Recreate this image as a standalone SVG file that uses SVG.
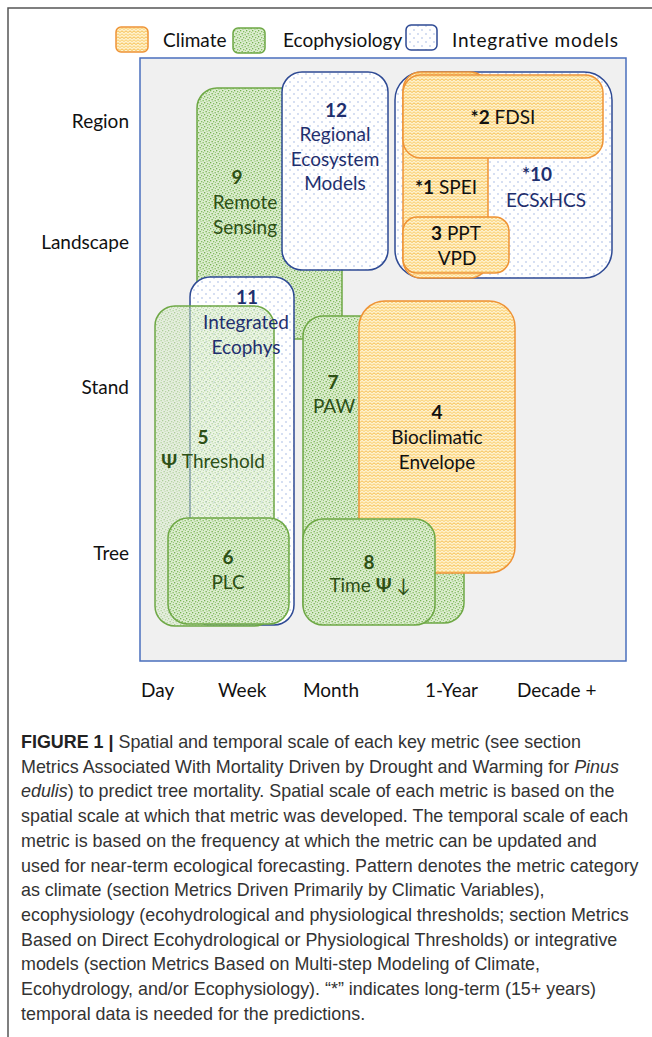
<svg xmlns="http://www.w3.org/2000/svg" width="652" height="1037" viewBox="0 0 652 1037">
<style>
  .lbl{font-family:Lato,"DejaVu Sans",sans-serif;font-size:19px;text-anchor:middle}
  .num{font-weight:bold}
  .cl{fill:#111111}
  .ec{fill:#2d5016}
  .in{fill:#1f2f6e}
  .ax{font-family:Lato,"DejaVu Sans",sans-serif;font-size:19px;fill:#111111}
  .cap{font-family:"Liberation Sans",Arial,sans-serif;font-size:17.9px;fill:#333333}
  .bClim{fill:url(#pClim);stroke:#ee9336;stroke-width:1.5}
  .bEco{fill:url(#pEco);stroke:#6ea845;stroke-width:1.5}
  .bInt{fill:url(#pInt);stroke:#2e4a94;stroke-width:1.5}
</style>
<defs>
  <pattern id="pClim" width="8" height="6" patternUnits="userSpaceOnUse">
    <rect width="8" height="6" fill="#fef1cc"/>
    <path d="M0 2.5 L2 0.8 L4 2.5 L6 0.8 L8 2.5" fill="none" stroke="#f7bd4a" stroke-width="1"/>
    <path d="M0 5.5 L2 3.8 L4 5.5 L6 3.8 L8 5.5" fill="none" stroke="#f9c85e" stroke-width="0.9"/>
  </pattern>
  <pattern id="pEco" width="6" height="6" patternUnits="userSpaceOnUse">
    <rect width="6" height="6" fill="#dcedcf"/>
    <rect x="0" y="0" width="1.3" height="1.3" fill="#74b050"/>
    <rect x="3" y="1" width="1.3" height="1.3" fill="#86bd62"/>
    <rect x="1.5" y="3" width="1.3" height="1.3" fill="#74b050"/>
    <rect x="4.5" y="4" width="1.3" height="1.3" fill="#86bd62"/>
    <rect x="5" y="2" width="1" height="1" fill="#9cca7e"/>
    <rect x="2.5" y="5" width="1" height="1" fill="#9cca7e"/>
  </pattern>
  <pattern id="pInt" width="8" height="8" patternUnits="userSpaceOnUse">
    <rect width="8" height="8" fill="#ffffff"/>
    <circle cx="2" cy="2" r="0.7" fill="#8ea8dc"/>
    <circle cx="6" cy="6" r="0.7" fill="#8ea8dc"/>
  </pattern>
</defs>

<rect width="652" height="1037" fill="#ffffff"/>
<path d="M8 1037 V8 H652" fill="none" stroke="#555555" stroke-width="1.5"/>

<g id="legend">
  <rect x="116" y="27" width="32" height="25" rx="5" class="bClim"/>
  <text x="163" y="47" class="ax">Climate</text>
  <rect x="233" y="28" width="32" height="25" rx="5" class="bEco"/>
  <text x="283" y="47" class="ax ec">Ecophysiology</text>
  <rect x="406" y="25" width="31" height="25" rx="5" class="bInt"/>
  <text x="452" y="47" class="ax in" textLength="166" lengthAdjust="spacing">Integrative models</text>
</g>

<g id="plot-area">
  <rect x="140" y="58" width="486" height="603" fill="#f0f0f0" stroke="#4a6fbd" stroke-width="1.5"/>
</g>

<g id="axis-labels">
  <text x="129" y="128" class="ax" text-anchor="end">Region</text>
  <text x="129" y="249" class="ax" text-anchor="end">Landscape</text>
  <text x="129" y="394" class="ax" text-anchor="end">Stand</text>
  <text x="129" y="560" class="ax" text-anchor="end">Tree</text>
  <text x="141" y="697" class="ax">Day</text>
  <text x="218" y="697" class="ax">Week</text>
  <text x="303" y="697" class="ax">Month</text>
  <text x="425" y="697" class="ax">1-Year</text>
  <text x="517" y="697" class="ax">Decade +</text>
</g>

<g id="connectors"></g>

<g id="node-9">
  <path d="M197 339 V108 A20 20 0 0 1 217 88 H342 V339 Z" class="bEco"/>
  <text x="237" y="184" class="lbl ec num">9</text>
  <text x="245" y="209" class="lbl ec">Remote</text>
  <text x="245" y="234" class="lbl ec">Sensing</text>
</g>

<g id="node-12">
  <rect x="282" y="72" width="106" height="198" rx="20" class="bInt"/>
  <text x="336" y="117" class="lbl in num">12</text>
  <text x="335" y="141" class="lbl in">Regional</text>
  <text x="335" y="166" class="lbl in">Ecosystem</text>
  <text x="335" y="190" class="lbl in">Models</text>
</g>

<g id="node-10">
  <rect x="395" y="72" width="217" height="206" rx="28" class="bInt"/>
  <text x="537" y="181" class="lbl in num">*10</text>
  <text x="546" y="207" class="lbl in">ECSxHCS</text>
</g>

<g id="node-1">
  <rect x="403" y="72" width="85" height="206" rx="18" class="bClim"/>
  <text x="446" y="194" class="lbl cl"><tspan class="num">*1</tspan> SPEI</text>
</g>

<g id="node-2">
  <rect x="403" y="75" width="200" height="83" rx="18" class="bClim"/>
  <text x="503" y="124" class="lbl cl"><tspan class="num">*2</tspan> FDSI</text>
</g>

<g id="node-3">
  <rect x="403" y="217" width="106" height="56" rx="14" class="bClim"/>
  <text x="456" y="240" class="lbl cl"><tspan class="num">3</tspan> PPT</text>
  <text x="457" y="265" class="lbl cl">VPD</text>
</g>

<g id="node-11">
  <rect x="190" y="277" width="104" height="348" rx="20" class="bInt"/>
</g>

<g id="node-5">
  <rect x="155" y="306" width="119" height="320" rx="20" fill="url(#pEco)" fill-opacity="0.55" stroke="#6ea845" stroke-width="1.5"/>
  <text x="203" y="444" class="lbl ec num">5</text>
  <text x="213" y="468" class="lbl ec"><tspan class="num">Ψ</tspan> Threshold</text>
</g>

<g id="node-11-label">
  <text x="247" y="304" class="lbl in num">11</text>
  <text x="246" y="329" class="lbl in">Integrated</text>
  <text x="246" y="354" class="lbl in">Ecophys</text>
</g>

<g id="node-6">
  <rect x="168" y="518" width="121" height="106" rx="20" class="bEco"/>
  <text x="228" y="564" class="lbl ec num">6</text>
  <text x="228" y="589" class="lbl ec">PLC</text>
</g>

<g id="node-7">
  <rect x="303" y="316" width="161" height="307" rx="20" class="bEco"/>
  <text x="333" y="389" class="lbl ec num">7</text>
  <text x="334" y="413" class="lbl ec">PAW</text>
</g>

<g id="node-4">
  <rect x="359" y="301" width="156" height="272" rx="26" class="bClim"/>
  <text x="437" y="419" class="lbl cl num">4</text>
  <text x="437" y="444" class="lbl cl">Bioclimatic</text>
  <text x="437" y="469" class="lbl cl">Envelope</text>
</g>

<g id="node-8">
  <rect x="303" y="519" width="132" height="106" rx="20" class="bEco"/>
  <text x="369" y="569" class="lbl ec num">8</text>
  <text x="370" y="592" class="lbl ec">Time <tspan class="num">Ψ</tspan> ↓</text>
</g>

<g id="caption">
  <text x="21" y="748" class="cap"><tspan font-weight="bold" fill="#222222">FIGURE 1 |</tspan> Spatial and temporal scale of each key metric (see section</text>
  <text x="21" y="772.7" class="cap">Metrics Associated With Mortality Driven by Drought and Warming for <tspan font-style="italic">Pinus</tspan></text>
  <text x="21" y="797.4" class="cap"><tspan font-style="italic">edulis</tspan>) to predict tree mortality. Spatial scale of each metric is based on the</text>
  <text x="21" y="822.1" class="cap">spatial scale at which that metric was developed. The temporal scale of each</text>
  <text x="21" y="846.8" class="cap">metric is based on the frequency at which the metric can be updated and</text>
  <text x="21" y="871.5" class="cap">used for near-term ecological forecasting. Pattern denotes the metric category</text>
  <text x="21" y="896.2" class="cap">as climate (section Metrics Driven Primarily by Climatic Variables),</text>
  <text x="21" y="920.9" class="cap">ecophysiology (ecohydrological and physiological thresholds; section Metrics</text>
  <text x="21" y="945.6" class="cap">Based on Direct Ecohydrological or Physiological Thresholds) or integrative</text>
  <text x="21" y="970.3" class="cap">models (section Metrics Based on Multi-step Modeling of Climate,</text>
  <text x="21" y="995" class="cap">Ecohydrology, and/or Ecophysiology). “*” indicates long-term (15+ years)</text>
  <text x="21" y="1019.7" class="cap">temporal data is needed for the predictions.</text>
</g>
</svg>
